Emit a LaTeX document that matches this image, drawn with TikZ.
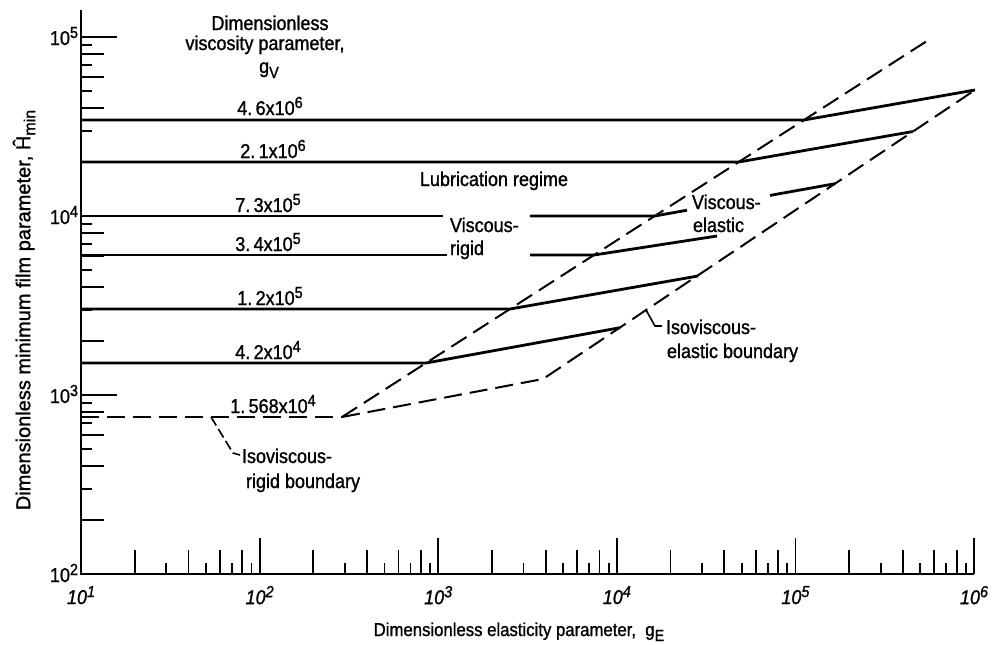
\documentclass[tikz,border=0pt]{standalone}
\usepackage{fontspec}
\setmainfont{Liberation Sans}[FakeStretch=0.9,FakeBold=1.2]
\newfontfamily\titlefont{Liberation Sans}[FakeBold=1.2]
\newcommand{\myup}[1]{\raisebox{3.5pt}{\fontsize{8}{8}\selectfont #1}}
\newcommand{\mydown}[1]{\raisebox{-2.5pt}{\fontsize{8}{8}\selectfont #1}}
\begin{document}
\begin{tikzpicture}[x=0.5pt,y=-0.5pt,
  every node/.style={inner sep=0pt, outer sep=0pt},
  font=\fontsize{10}{12}\selectfont,
  axisline/.style={line width=1.3pt},
  tickmark/.style={line width=0.9pt},
  curve/.style={line width=1.4pt},
  bound/.style={line width=1pt, dash pattern=on 9pt off 4pt},
  leaderline/.style={line width=0.8pt},
  val/.style={anchor=base},
  word/.style={anchor=base west}]
\useasboundingbox (0,0) rectangle (996,644);

% axes
\coordinate (O) at (81,574);
\coordinate (Xe) at (974,574);
\coordinate (Yt) at (81,10);
\draw[axisline] (Yt) -- (O) -- (Xe);

% x ticks
\foreach \d in {0,...,4}{
  \foreach \m in {2,...,9}{
    \pgfmathsetmacro\xx{81+178.6*(\d+log10(\m))}
    \pgfmathsetmacro\len{isodd(\m)?11:24}
    \draw[tickmark] (\xx,574) -- ++(0,-\len);
  }
}
\foreach \d in {1,...,5}{
  \draw[tickmark] (81+178.6*\d,574) -- ++(0,-36);
}
% x tick labels
\foreach \d [evaluate=\d as \e using int(\d+1)] in {0,...,5}{
  \node[anchor=north] (xl\d) at (81+178.6*\d,586) {\itshape 10\myup{\e}};
}

% y ticks
\foreach \d in {0,1,2}{
  \foreach \m in {2,...,9}{
    \pgfmathsetmacro\yy{574-179*(\d+log10(\m))}
    \pgfmathsetmacro\len{isodd(\m)?11:23}
    \draw[tickmark] (81,\yy) -- ++(\len,0);
  }
}
\foreach \d in {1,2,3}{
  \draw[tickmark] (81,574-179*\d) -- ++(36,0);
}
% y tick labels
\foreach \d [evaluate=\d as \e using int(\d+2)] in {0,...,3}{
  \node[anchor=base east] (yl\d) at (78,582-179*\d) {10\myup{\e}};
}

% axis titles
\node[rotate=90] (ytitle) at (24,310) {\titlefont Dimensionless minimum film parameter, \^{H}\mydown{min}};
\node[anchor=base] (xtitle) at (519,636) {\fontsize{9.3}{11}\selectfont Dimensionless elasticity parameter,\ \ g\mydown{E}};

% legend title
\node[anchor=base] (lt1) at (270,30) {Dimensionless};
\node[anchor=base] (lt2) at (265,50) {viscosity parameter,};
\node[anchor=base] (lt3) at (269,73) {g\mydown{V}};

% boundaries
\coordinate (R0) at (81,417);
\coordinate (C) at (342,417);
\coordinate (U) at (930,39);
\coordinate (B) at (543,379);
\coordinate (T) at (975,90);
\draw[bound] (R0) -- (C);
\draw[bound] (C) -- (U);
\draw[bound] (C) -- (B) -- (T);

% curves
\coordinate (a0) at (81,120);  \coordinate (a1) at (804,120);
\draw[curve] (a0) -- (a1) -- (T);
\coordinate (b0) at (81,162);  \coordinate (b1) at (738.7,162); \coordinate (b2) at (913,131.5);
\draw[curve] (b0) -- (b1) -- (b2);
\coordinate (c0) at (81,216);  \coordinate (c1) at (443,216);
\coordinate (c2) at (530,216); \coordinate (c3) at (654.7,216); \coordinate (c4) at (687,210.2);
\coordinate (c5) at (770,195.4); \coordinate (c6) at (835,183.7);
\draw[curve] (c0) -- (c1);
\draw[curve] (c2) -- (c3) -- (c4);
\draw[curve] (c5) -- (c6);
\coordinate (d0) at (81,255);  \coordinate (d1) at (447,255);
\coordinate (d2) at (530,255); \coordinate (d3) at (594,255); \coordinate (d4) at (717,236);
\draw[curve] (d0) -- (d1);
\draw[curve] (d2) -- (d3) -- (d4);
\coordinate (e0) at (81,309);  \coordinate (e1) at (510,309); \coordinate (e2) at (698,276);
\draw[curve] (e0) -- (e1) -- (e2);
\coordinate (f0) at (81,363);  \coordinate (f1) at (426,363); \coordinate (f2) at (620,327.7);
\draw[curve] (f0) -- (f1) -- (f2);

% curve values
\node[val] (v1) at (270,115) {4.\,6x10\myup{6}};
\node[val] (v2) at (273,158) {2.\,1x10\myup{6}};
\node[val] (v3) at (268,212) {7.\,3x10\myup{5}};
\node[val] (v4) at (268,251) {3.\,4x10\myup{5}};
\node[val] (v5) at (270,305) {1.\,2x10\myup{5}};
\node[val] (v6) at (268,359) {4.\,2x10\myup{4}};
\node[val] (v7) at (273,413) {1.\,568x10\myup{4}};

% region labels
\node[val] (lub) at (494,186) {Lubrication regime};
\node[word] (vr1) at (450,232) {Viscous-};
\node[word] (vr2) at (450,255) {rigid};
\node[word] (ve1) at (692,209) {Viscous-};
\node[word] (ve2) at (693,232) {elastic};
\node[word] (ie1) at (666,334) {Isoviscous-};
\node[word] (ie2) at (667,358) {elastic boundary};
\node[word] (ir1) at (242,463) {Isoviscous-};
\node[word] (ir2) at (246,488) {rigid boundary};

% leaders
\coordinate (p1) at (211,417); \coordinate (p2) at (233,453); \coordinate (p3) at (240,455);
\draw[leaderline, dash pattern=on 5pt off 2pt] (p1) -- (p2) -- (p3);
\coordinate (q1) at (646,310); \coordinate (q2) at (655,326); \coordinate (q3) at (662,326);
\draw[leaderline] (q1) -- (q2) -- (q3);
\end{tikzpicture}
\end{document}
